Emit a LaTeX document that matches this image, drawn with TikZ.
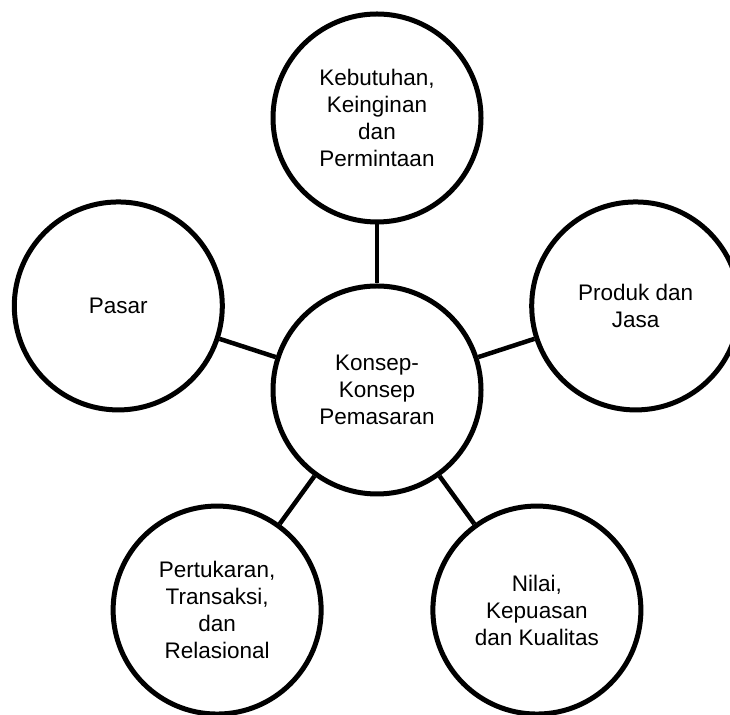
\documentclass[tikz,border=0pt]{standalone}
\usepackage{fontspec}
\setmainfont{Liberation Sans}

\tikzset{
  konsep/.style={circle, draw=black, line width=5pt, fill=white,
    minimum size=208pt, inner sep=0pt, align=center,
    font=\fontsize{22.5}{27}\selectfont},
  penghubung/.style={line width=4.5pt, black}
}

\begin{document}
\begin{tikzpicture}[x=1pt, y=1pt]
  % Canvas size of the picture
  \useasboundingbox (0,0) rectangle (730,714);
  \def\jarak{272} % Distance from the middle circle to the outer ones

  % Middle circle
  \node[konsep] (pusat) at (377,324) {Konsep-\\Konsep\\Pemasaran};

  % Outer circles, placed on a pentagon round the middle
  \node[konsep] (kebutuhan) at ([shift={(90:\jarak)}]pusat)
    {Kebutuhan,\\Keinginan\\dan\\Permintaan};
  \node[konsep] (produk) at ([shift={(18:\jarak)}]pusat) {Produk dan\\Jasa};
  \node[konsep] (nilai) at ([shift={(-54:\jarak)}]pusat)
    {Nilai,\\Kepuasan\\dan Kualitas};
  \node[konsep] (pertukaran) at ([shift={(-126:\jarak)}]pusat)
    {Pertukaran,\\Transaksi,\\dan\\Relasional};
  \node[konsep] (pasar) at ([shift={(162:\jarak)}]pusat) {Pasar};

  % Connectors from the middle circle
  \draw[penghubung] (pusat) -- (kebutuhan);
  \draw[penghubung] (pusat) -- (produk);
  \draw[penghubung] (pusat) -- (nilai);
  \draw[penghubung] (pusat) -- (pertukaran);
  \draw[penghubung] (pusat) -- (pasar);
\end{tikzpicture}
\end{document}
